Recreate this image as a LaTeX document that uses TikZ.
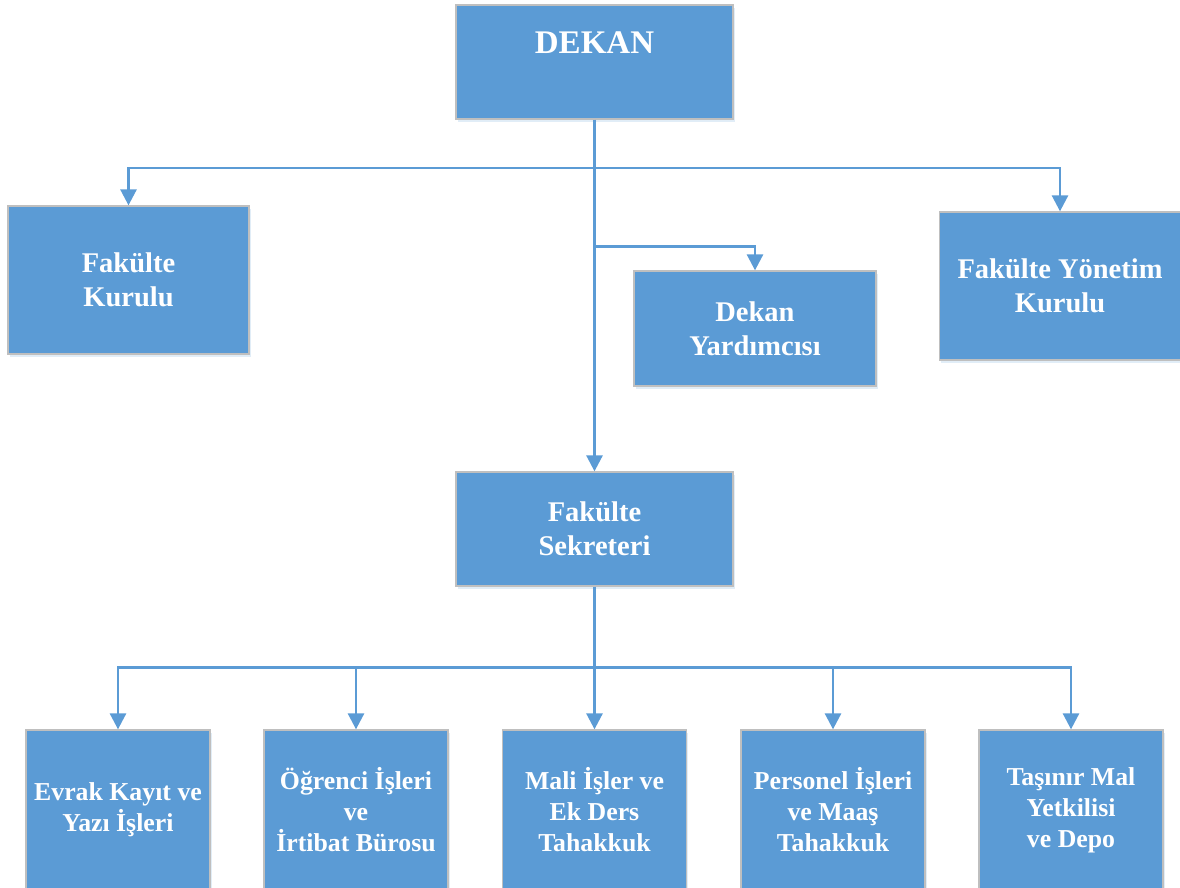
\documentclass[tikz,border=0pt]{standalone}
\usepackage{fontspec}
\setmainfont{Liberation Serif}
\usetikzlibrary{arrows.meta, shadows}
\definecolor{boxblue}{RGB}{91,155,213}
\definecolor{boxgray}{RGB}{191,191,191}
\tikzset{>={Triangle[length=16pt,width=16pt]}}
\tikzset{
    box/.style={draw=boxgray, line width=1.3pt, fill=boxblue, text=white,
        align=center, inner sep=0pt,
        drop shadow={opacity=0.18, fill=boxblue, shadow xshift=1.5pt, shadow yshift=-3pt}},
    topbox/.style={box, font=\bfseries\fontsize{28.5}{34}\selectfont},
    lowbox/.style={box, font=\bfseries\fontsize{25.8}{31}\selectfont,
        minimum width=184pt, minimum height=160pt},
    link/.style={draw=boxblue, line width=2.7pt}
}

\begin{document}
\begin{tikzpicture}[x=1pt, y=-1pt]
    \useasboundingbox (0,0) rectangle (1180,887);
    \clip (0,0) rectangle (1180,887);
    % upper level
    \node[box, font=\bfseries\fontsize{33}{38}\selectfont, minimum width=277pt,
        text height=48pt, text depth=66pt] (dekan) at (594.5,62) {DEKAN};
    \node[topbox, minimum width=241pt, minimum height=148pt] (kurul) at (128.5,280) {Fakülte\\Kurulu};
    \node[topbox, minimum width=241pt, minimum height=148pt] (yonetim) at (1060,286) {Fakülte Yönetim\\Kurulu};
    \node[topbox, minimum width=242pt, minimum height=115pt] (yardimci) at (755,328.5) {Dekan\\Yardımcısı};
    \node[topbox, minimum width=277pt, minimum height=114pt] (sekreter) at (594.5,529) {Fakülte\\Sekreteri};
    % lower level
    \node[lowbox] (evrak) at (118,810) {Evrak Kayıt ve\\Yazı İşleri};
    \node[lowbox] (ogrenci) at (356,810) {Öğrenci İşleri\\ve\\İrtibat Bürosu};
    \node[lowbox] (mali) at (594.5,810) {Mali İşler ve\\Ek Ders\\Tahakkuk};
    \node[lowbox] (personel) at (833,810) {Personel İşleri\\ve Maaş\\Tahakkuk};
    \node[lowbox] (tasinir) at (1071,810) {Taşınır Mal\\Yetkilisi\\ve Depo};

    \coordinate (ust) at (594.5,168);
    \coordinate (orta) at (594.5,246.5);
    \coordinate (alt) at (594.5,667.5);

    \draw[link, ->] (dekan) -- (sekreter);
    \draw[link, ->] (ust) -| (kurul.north);
    \draw[link, ->] (ust) -| (yonetim.north);
    \draw[link, ->] (orta) -| (yardimci.north);
    \draw[link, ->] (sekreter) -- (mali);
    \foreach \b in {evrak, ogrenci, personel, tasinir}
        \draw[link, ->] (alt) -| (\b.north);
\end{tikzpicture}
\end{document}
